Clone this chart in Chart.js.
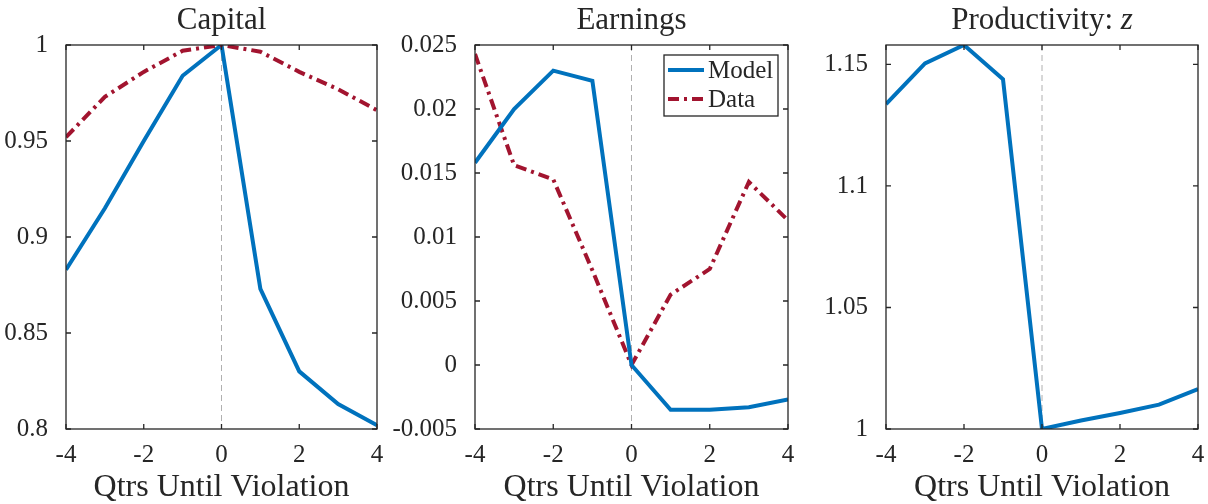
<!DOCTYPE html>
<html>
<head>
<meta charset="utf-8">
<script src="https://cdn.jsdelivr.net/npm/chart.js@4.4.0/dist/chart.umd.min.js"></script>
<style>
    html, body { margin: 0; padding: 0; background: #fff; }
    #wrap { position: relative; width: 1208px; height: 504px; overflow: hidden; }
    .panel { position: absolute; top: 0; height: 504px; }
</style>
</head>
<body>
<div id="wrap">
    <div class="panel" style="left:0;width:400px"><canvas id="capitalChart" width="400" height="504"></canvas></div>
    <div class="panel" style="left:380px;width:428px"><canvas id="earningsChart" width="428" height="504"></canvas></div>
    <div class="panel" style="left:808px;width:400px"><canvas id="productivityChart" width="400" height="504"></canvas></div>
</div>
<script>
// quarters relative to covenant violation
const quarters = [-4, -3, -2, -1, 0, 1, 2, 3, 4];

const capitalModel = [0.883, 0.915, 0.950, 0.984, 1.000, 0.873, 0.830, 0.813, 0.802];
const capitalData = [0.952, 0.973, 0.986, 0.997, 1.000, 0.9965, 0.986, 0.977, 0.966];

const earningsModel = [0.0158, 0.0200, 0.0230, 0.0222, 0.0000, -0.0035, -0.0035, -0.0033, -0.0027];
const earningsData = [0.0243, 0.0156, 0.0145, 0.0074, 0.0000, 0.0055, 0.0075, 0.0143, 0.0113];

const productivityModel = [1.1337, 1.1504, 1.158, 1.1439, 1.000, 1.0035, 1.0066, 1.0100, 1.0164];

const xTicks = [-4, -2, 0, 2, 4];
const seriesNames = ['Model', 'Data'];
const xTitle = 'Qtrs Until Violation';

const BLUE = '#0072BD';
const RED = '#A2142F';
const INK = '#262626';
const FONT = "'Liberation Serif', 'Times New Roman', serif";

const toPoints = (vals) => quarters.map((q, i) => ({ x: q, y: vals[i] }));
const fmt = (v) => String(parseFloat(Number(v).toFixed(4)));

// MATLAB-ish box, inward ticks, x=0 guide, title with italic parts, boxed legend
const matlabBox = {
    id: 'matlabBox',
    beforeDatasetsDraw(chart) {
        const { ctx, chartArea: a, scales: { x } } = chart;
        const px = x.getPixelForValue(0);
        ctx.save();
        ctx.strokeStyle = '#b0b0b0';
        ctx.lineWidth = 1;
        ctx.setLineDash([6, 4]);
        ctx.beginPath();
        ctx.moveTo(px, a.top);
        ctx.lineTo(px, a.bottom);
        ctx.stroke();
        ctx.restore();
    },
    afterDraw(chart, args, opts) {
        const { ctx, chartArea: a, scales: { x, y } } = chart;
        const tl = 5;
        ctx.save();
        ctx.strokeStyle = INK;
        ctx.lineWidth = 1.3;
        ctx.setLineDash([]);
        ctx.strokeRect(a.left, a.top, a.right - a.left, a.bottom - a.top);
        ctx.beginPath();
        x.ticks.forEach(t => {
            const p = x.getPixelForValue(t.value);
            ctx.moveTo(p, a.bottom); ctx.lineTo(p, a.bottom - tl);
            ctx.moveTo(p, a.top); ctx.lineTo(p, a.top + tl);
        });
        y.ticks.forEach(t => {
            const p = y.getPixelForValue(t.value);
            ctx.moveTo(a.left, p); ctx.lineTo(a.left + tl, p);
            ctx.moveTo(a.right, p); ctx.lineTo(a.right - tl, p);
        });
        ctx.stroke();

        // title
        const parts = opts.title || [];
        ctx.fillStyle = INK;
        ctx.textBaseline = 'alphabetic';
        ctx.textAlign = 'left';
        const fonts = parts.map(p => (p[1] ? 'italic ' : '') + '31px ' + FONT);
        let total = 0;
        parts.forEach((p, i) => { ctx.font = fonts[i]; total += ctx.measureText(p[0]).width; });
        let tx = (a.left + a.right) / 2 - total / 2;
        parts.forEach((p, i) => {
            ctx.font = fonts[i];
            ctx.fillText(p[0], tx, 29);
            tx += ctx.measureText(p[0]).width;
        });

        // legend
        if (opts.legend) {
            const bw = 114, bh = 61;
            const bx = a.right - 10 - bw, by = a.top + 10;
            ctx.fillStyle = '#fff';
            ctx.fillRect(bx, by, bw, bh);
            ctx.lineWidth = 1.3;
            ctx.strokeRect(bx, by, bw, bh);
            ctx.font = '25px ' + FONT;
            ctx.textBaseline = 'middle';
            chart.data.datasets.forEach((ds, i) => {
                const ly = by + 15 + i * 29;
                ctx.strokeStyle = ds.borderColor;
                ctx.lineWidth = ds.borderWidth;
                ctx.setLineDash(ds.borderDash || []);
                ctx.beginPath();
                ctx.moveTo(bx + 4, ly);
                ctx.lineTo(bx + 40, ly);
                ctx.stroke();
                ctx.fillStyle = INK;
                ctx.fillText(ds.label, bx + 44, ly + 1);
            });
        }
        ctx.restore();
    }
};

function makeChart(id, datasets, yMin, yMax, yStep, leftWidth, rightPad, pluginOpts) {
    return new Chart(document.getElementById(id), {
        type: 'line',
        data: { datasets },
        options: {
            responsive: false,
            animation: false,
            layout: { padding: { top: 45, right: rightPad, bottom: 0, left: 0 } },
            elements: { point: { radius: 0 }, line: { tension: 0 } },
            plugins: {
                legend: { display: false },
                tooltip: { enabled: false },
                matlabBox: pluginOpts
            },
            scales: {
                x: {
                    type: 'linear',
                    min: -4,
                    max: 4,
                    afterBuildTicks: (s) => { s.ticks = xTicks.map(v => ({ value: v })); },
                    afterFit: (s) => { s.height = 75; s.paddingLeft = 0; s.paddingRight = 0; },
                    grid: { display: false },
                    border: { display: false },
                    ticks: {
                        padding: 3,
                        color: INK,
                        font: { family: FONT, size: 25 },
                        maxRotation: 0,
                        callback: (v) => fmt(v)
                    },
                    title: {
                        display: true,
                        text: xTitle,
                        color: INK,
                        font: { family: FONT, size: 32, lineHeight: 1.0 },
                        padding: { top: 0, bottom: 0 }
                    }
                },
                y: {
                    min: yMin,
                    max: yMax,
                    afterFit: (s) => { s.width = leftWidth; s.paddingTop = 0; s.paddingBottom = 0; },
                    grid: { display: false },
                    border: { display: false },
                    ticks: {
                        stepSize: yStep,
                        padding: 10,
                        color: INK,
                        font: { family: FONT, size: 25 },
                        includeBounds: false,
                        callback: (v) => fmt(v)
                    }
                }
            }
        },
        plugins: [matlabBox]
    });
}

const modelStyle = { borderColor: BLUE, borderWidth: 4, fill: false };
const dataStyle = { borderColor: RED, borderWidth: 4, borderDash: [11, 5, 3, 5], fill: false };

window.capitalChartInstance = makeChart('capitalChart', [
    Object.assign({ label: seriesNames[1], data: toPoints(capitalData) }, dataStyle),
    Object.assign({ label: seriesNames[0], data: toPoints(capitalModel) }, modelStyle)
], 0.8, 1, 0.05, 66, 23, { title: [['Capital', false]] });

window.earningsChartInstance = makeChart('earningsChart', [
    Object.assign({ label: seriesNames[0], data: toPoints(earningsModel) }, modelStyle),
    Object.assign({ label: seriesNames[1], data: toPoints(earningsData) }, dataStyle)
], -0.005, 0.025, 0.005, 95, 20, { title: [['Earnings', false]], legend: true });

window.productivityChartInstance = makeChart('productivityChart', [
    Object.assign({ label: seriesNames[0], data: toPoints(productivityModel) }, modelStyle)
], 1, Math.max(...productivityModel), 0.05, 78, 10, { title: [['Productivity: ', false], ['z', true]] });
</script>
</body>
</html>
